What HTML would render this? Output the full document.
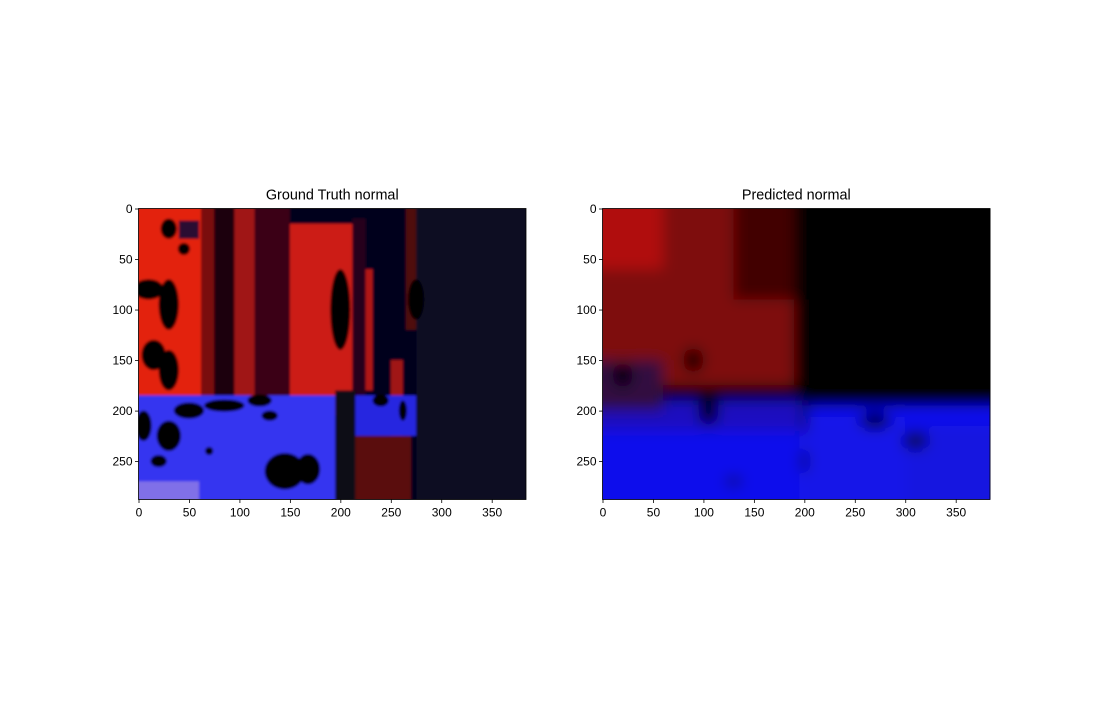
<!DOCTYPE html>
<html><head><meta charset="utf-8"><style>
body{margin:0;background:#fff;}
svg text{font-family:"Liberation Sans","DejaVu Sans",sans-serif;}
</style></head><body>
<svg id="fig" width="1100" height="700" xmlns="http://www.w3.org/2000/svg">
<defs>
<filter id="b1" x="-20%" y="-20%" width="140%" height="140%"><feGaussianBlur stdDeviation="1.2"/></filter>
<filter id="b2" x="-30%" y="-30%" width="160%" height="160%"><feGaussianBlur stdDeviation="7"/></filter>
<clipPath id="cl"><rect x="138.5" y="208.5" width="387.5" height="291"/></clipPath>
<clipPath id="cr"><rect x="602.5" y="208.5" width="388" height="291"/></clipPath>
</defs>
</svg>
<script>
const xTicks=[0,50,100,150,200,250,300,350];
const yTicks=[0,50,100,150,200,250];
const imgW=384, imgH=288;
// regions: [x0,y0,x1,y1,color] in image pixel units
const gtRegions=[
 [-20,-20,404,308,'#05051f'],
 [-20,-20,62,185,'#e3200f'],
 [62,-20,75,200,'#7a0d0d'],
 [75,-20,95,200,'#1a0410'],
 [95,-20,115,200,'#a01212'],
 [115,-20,150,200,'#3a0612'],
 [150,15,212,205,'#cc1a18'],
 [212,10,225,200,'#25061a'],
 [225,60,232,180,'#b01515'],
 [250,150,262,230,'#a01515'],
 [265,-20,275,120,'#500a10'],
 [-20,185,195,308,'#3434f0'],
 [200,185,275,225,'#2828e0'],
 [215,225,270,308,'#5a0a0a'],
 [195,180,215,308,'#080815'],
 [275,-20,404,308,'#070724'],
 [-20,270,60,308,'#8070e8'],
 [40,12,60,30,'#2a0c30']
];
const gtBlobs=[
 [30,20,8,10],[45,40,6,6],[10,80,15,10],[30,95,10,25],[15,145,12,15],[30,160,10,20],
 [5,215,8,15],[30,225,12,15],[50,200,15,8],[85,195,20,6],[120,190,12,6],[130,205,8,5],
 [145,260,20,18],[168,258,12,15],[20,250,8,6],[70,240,4,4],[240,190,8,6],[262,200,4,10],
 [200,100,10,40],[275,90,8,20]
];
const predRegions=[
 [-30,-30,414,318,'#020206'],
 [-30,-30,190,175,'#7e0808'],
 [-30,-30,60,60,'#b00e0e'],
 [130,-30,190,90,'#420505'],
 [-30,195,414,318,'#1010ec'],
 [-30,190,200,220,'#1a10c0'],
 [195,205,300,318,'#1212e8'],
 [300,215,414,318,'#1212e0'],
 [-30,150,60,200,'#300a40']
];
const predBlobs=[[20,165,10,12],[90,150,10,12],[105,200,10,15],[200,205,3,20],[200,250,3,12],[130,270,8,4],[270,210,15,8],[310,230,12,8]];

const NS='http://www.w3.org/2000/svg';
const svg=document.getElementById('fig');
function mk(t,a,p){const e=document.createElementNS(NS,t);for(const k in a)e.setAttribute(k,a[k]);(p||svg).appendChild(e);return e;}

function panel(x0,name,title,regions,blobs,blur,clip,base){
  const top=208.5,w=387.5,h=291;
  const sx=v=>x0+(v)*w/imgW, sy=v=>top+(v)*h/imgH;
  const g=mk('g',{'clip-path':'url(#'+clip+')'});
  
  
  mk('rect',{x:x0,y:top,width:w,height:h,fill:base},g);
  const ig=mk('g',{filter:'url(#'+blur+')'},g);
  regions.forEach(r=>{
    const e=mk('rect',{x:sx(r[0]),y:sy(r[1]),width:sx(r[2])-sx(r[0]),height:sy(r[3])-sy(r[1]),fill:r[4]},ig);
    
    
  });
  blobs.forEach(b=>{
    const e=mk('ellipse',{cx:sx(b[0]),cy:sy(b[1]),rx:b[2]*w/imgW,ry:b[3]*h/imgH,fill:'#000'},ig);
    
    
  });
  const f=mk('rect',{x:x0,y:top,width:w,height:h,fill:'none',stroke:'#000','stroke-width':0.8});
  
  
  xTicks.forEach(t=>{
    const x=sx(t+0.5);
    mk('line',{x1:x,x2:x,y1:top+h,y2:top+h+3.5,stroke:'#000','stroke-width':0.8});
    const tx=mk('text',{x:x,y:top+h+17,'font-size':12,'text-anchor':'middle'});tx.textContent=t;
    
    
  });
  yTicks.forEach(t=>{
    const y=sy(t+0.5);
    mk('line',{x1:x0,x2:x0-3.5,y1:y,y2:y,stroke:'#000','stroke-width':0.8});
    const tx=mk('text',{x:x0-6,y:y+4,'font-size':12,'text-anchor':'end'});tx.textContent=t;
    
    
  });
  const tt=mk('text',{x:x0+w/2,y:top-9,'font-size':14.4,'text-anchor':'middle'});tt.textContent=title;
  
  
}
panel(138.5,'ground-truth','Ground Truth normal',gtRegions,gtBlobs,'b1','cl','#05051f');
panel(602.5,'predicted','Predicted normal',predRegions,predBlobs,'b2','cr','#020206');
</script>
</body></html>
